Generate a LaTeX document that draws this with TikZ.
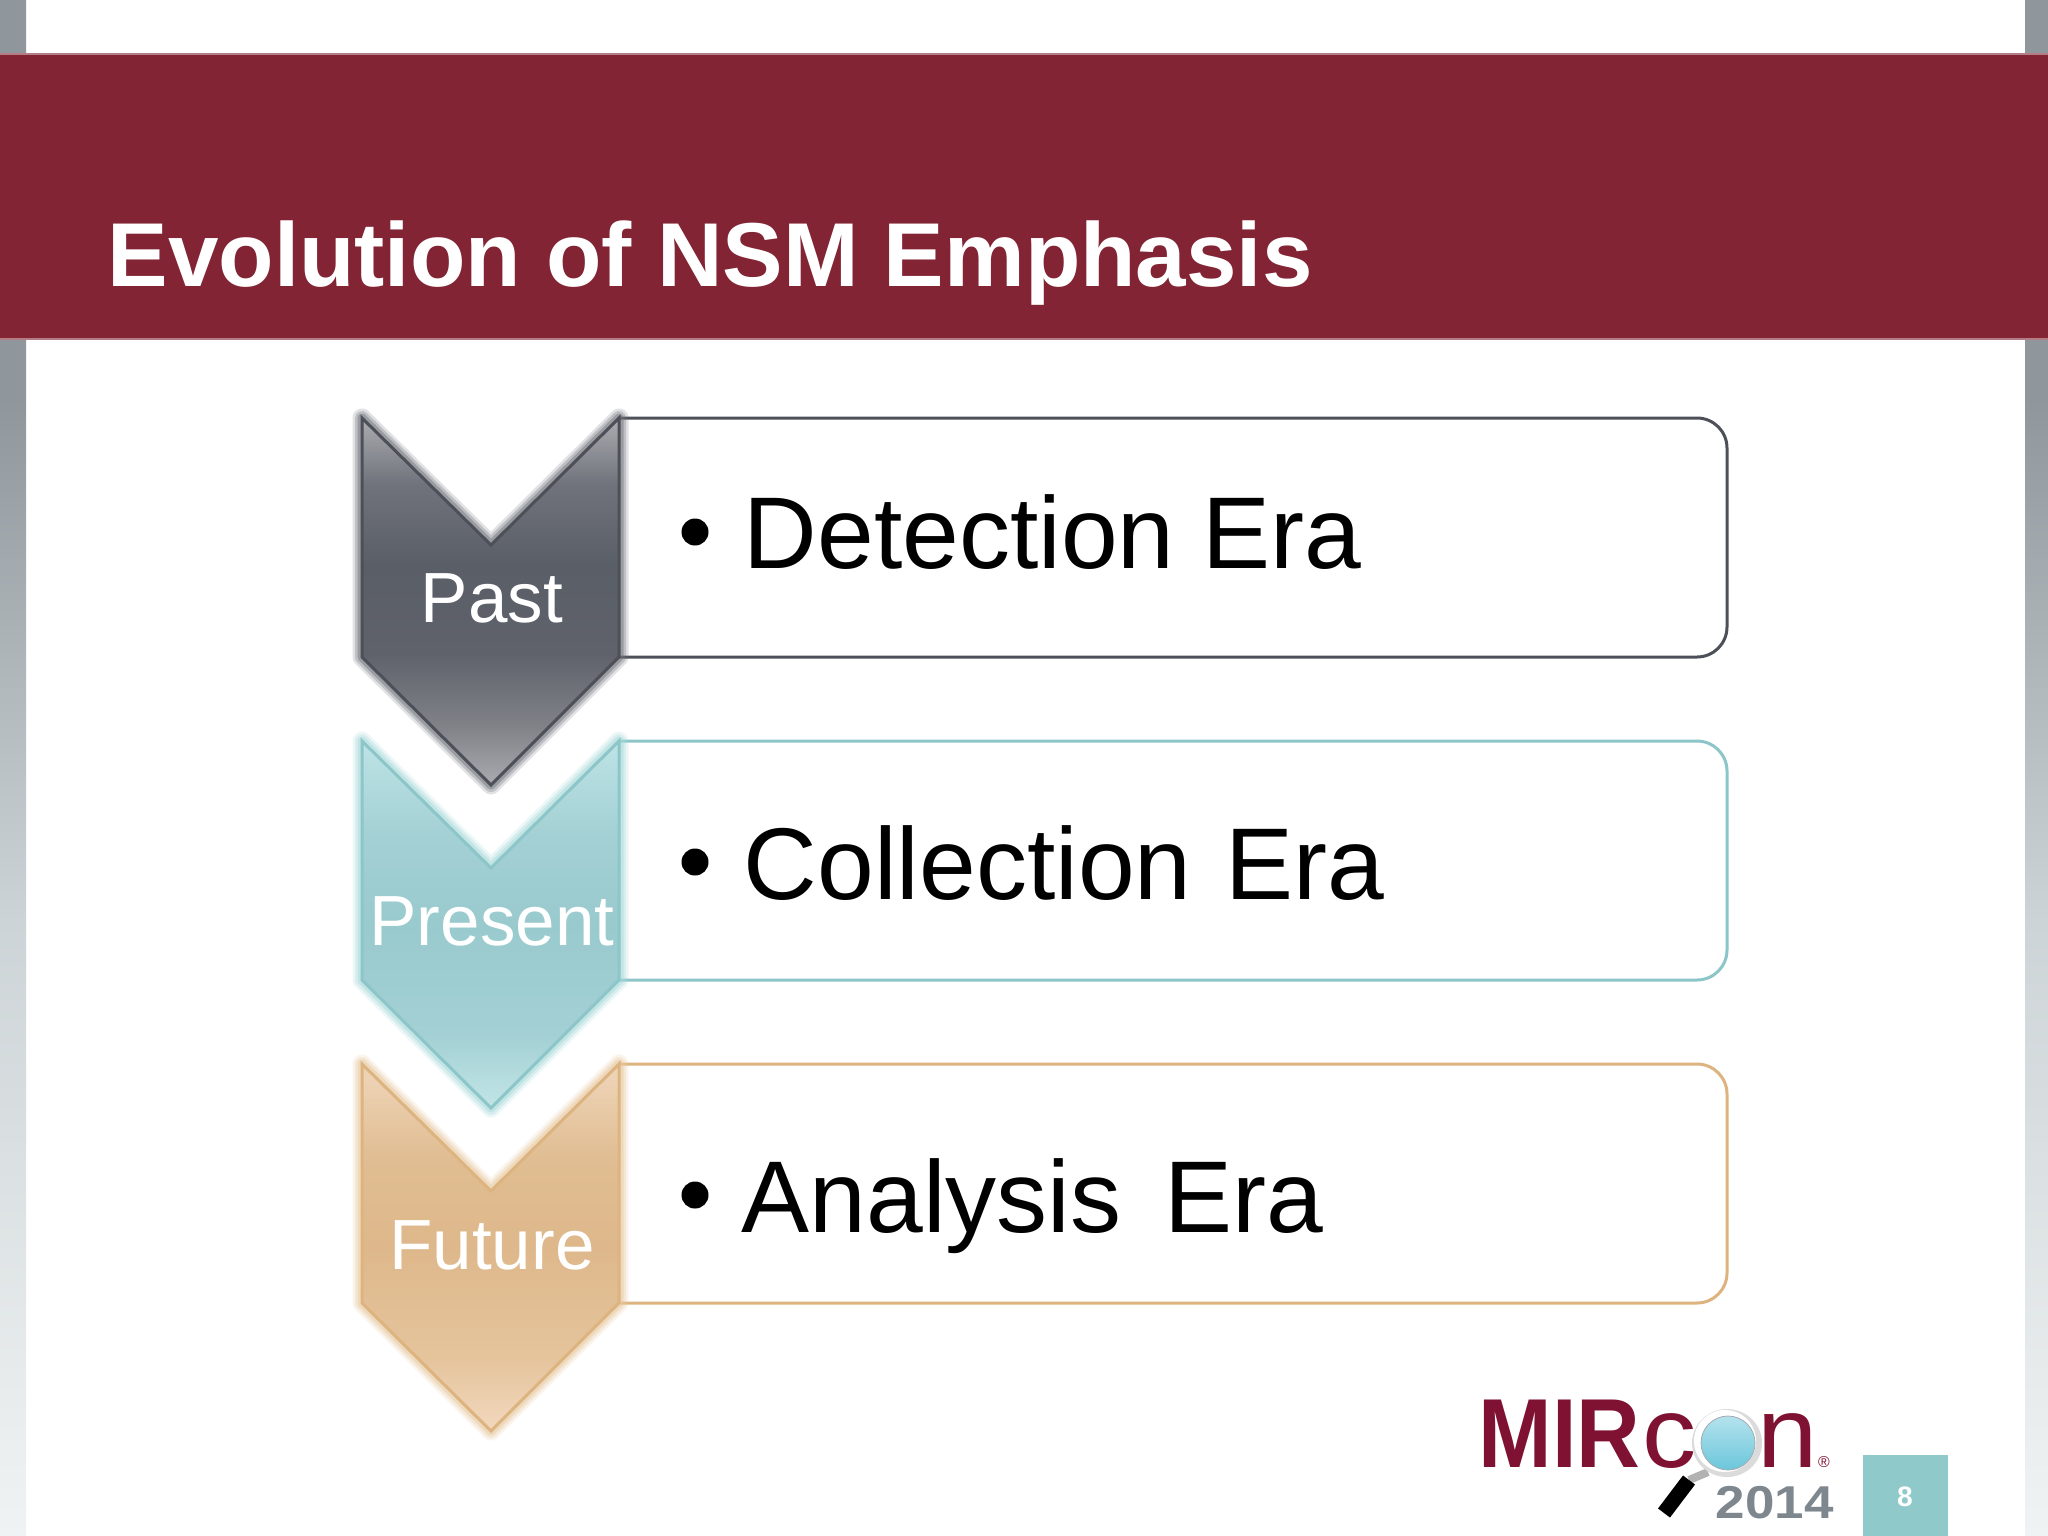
\documentclass[tikz,border=0pt]{standalone}
\usepackage{fontspec}
\usetikzlibrary{calc}
\setmainfont{Liberation Sans}
\definecolor{barred}{HTML}{822434}
\definecolor{logored}{HTML}{7F1232}
\definecolor{logogrey}{HTML}{7F878E}
\definecolor{numteal}{HTML}{8FC9CA}
\definecolor{pastline}{HTML}{4D5058}
\definecolor{presline}{HTML}{8CC6C8}
\definecolor{futline}{HTML}{DDB47F}
\definecolor{pastglow}{HTML}{6E7278}
\definecolor{presglow}{HTML}{A8DADB}
\definecolor{futglow}{HTML}{E8C9A0}
\definecolor{glassa}{HTML}{B4E3EE}\definecolor{glassb}{HTML}{6CC6DB}
\definecolor{pa}{HTML}{AAABB0}\definecolor{pb}{HTML}{808288}\definecolor{pc}{HTML}{5F626A}
\definecolor{pd}{HTML}{5A5E67}\definecolor{pe}{HTML}{70737B}\definecolor{pf}{HTML}{AAACB0}
\definecolor{ra}{HTML}{BDE3E6}\definecolor{rb}{HTML}{A3D0D4}\definecolor{rc}{HTML}{99CACE}
\definecolor{rd}{HTML}{A3D0D4}\definecolor{re}{HTML}{C2E5E7}
\definecolor{fa}{HTML}{EFD6BA}\definecolor{fb}{HTML}{E0BD92}\definecolor{fc}{HTML}{DEB88B}
\definecolor{fd}{HTML}{E5C49C}\definecolor{fe}{HTML}{F2D8BE}
\definecolor{sa}{HTML}{F0F3F3}\definecolor{sb}{HTML}{CDD4D7}\definecolor{sc}{HTML}{8F979C}
\pgfdeclareverticalshading{pastshade}{100bp}{color(0bp)=(pa);color(25bp)=(pa);
  color(33bp)=(pb);color(43bp)=(pc);color(55bp)=(pd);color(66bp)=(pe);color(75bp)=(pf);color(100bp)=(pf)}
\pgfdeclareverticalshading{presshade}{100bp}{color(0bp)=(re);color(25bp)=(re);
  color(35bp)=(rd);color(50bp)=(rc);color(62bp)=(rb);color(75bp)=(ra);color(100bp)=(ra)}
\pgfdeclareverticalshading{futshade}{100bp}{color(0bp)=(fe);color(25bp)=(fe);
  color(35bp)=(fd);color(50bp)=(fc);color(62bp)=(fb);color(75bp)=(fa);color(100bp)=(fa)}
\pgfdeclareverticalshading{stripshade}{100bp}{color(0bp)=(sa);color(25bp)=(sa);
  color(45bp)=(sb);color(62bp)=(sc);color(100bp)=(sc)}
\newcommand{\chevpath}[1]{(362,#1) -- (491,#1+127) -- (619,#1) -- (619,#1+239) -- (491,#1+367) -- (362,#1+239) -- cycle}
\newcommand{\chevron}[4]{%
  \foreach \w/\o in {19/0.2,14/0.3,9/0.45}{\draw[#4,line width=\w*0.01cm,opacity=\o,line join=round] \chevpath{#1};}
  \shade[shading=#2,draw=none] \chevpath{#1};
  \draw[#3,line width=0.03cm,line join=miter] \chevpath{#1};
}
\newcommand{\pillpath}[1]{(619,#1) -- (1727,#1) -- (1727,#1+239) -- (619,#1+239)}
\tikzset{
  erabox/.style={line width=0.03cm,rounded corners=0.3cm},
  eratext/.style={anchor=base west,inner sep=0pt,font=\fontsize{29}{34}\selectfont,text=black},
  chevtext/.style={inner sep=0pt,anchor=base,text=white,font=\fontsize{20.2}{24}\selectfont},
  bulletdot/.style={circle,fill=black,inner sep=0pt,minimum size=0.27cm}
}
\begin{document}
\begin{tikzpicture}[x=0.01cm,y=-0.01cm]
\useasboundingbox (0,0) rectangle (2048,1536);
\fill[white] (0,0) rectangle (2048,1536);
% side strips
\shade[shading=stripshade] (0,0) rectangle (26,1536);
\shade[shading=stripshade] (2025,0) rectangle (2048,1536);
% title band
\fill[barred] (0,54) rectangle (2048,339);
\draw[barred!60!white,line width=0.012cm] (0,54) -- (2048,54);
\draw[barred!60!white,line width=0.012cm] (0,339) -- (2048,339);
\node[anchor=base west,inner sep=0pt,text=white,font=\fontsize{25.8}{30}\selectfont\bfseries] (title) at (107,286) {Evolution of NSM Emphasis};
% era boxes
\draw[erabox,draw=pastline,fill=white] \pillpath{418};
\draw[erabox,draw=presline,fill=white] \pillpath{741};
\draw[erabox,draw=futline,fill=white] \pillpath{1064};
% chevrons
\chevron{1064}{futshade}{futline}{futglow}
\chevron{741}{presshade}{presline}{presglow}
\chevron{418}{pastshade}{pastline}{pastglow}
\node[chevtext] (past) at (492,622) {Past};
\node[chevtext] (present) at (492,945) {Present};
\node[chevtext] (future) at (492,1269) {Future};
% era texts
\node[bulletdot] (b1) at (695,532) {};
\node[bulletdot] (b2) at (695,862) {};
\node[bulletdot] (b3) at (695,1195) {};
\node[eratext] (t1) at (743,568) {Detection Era};
\node[eratext] (t2) at (743,899) {Collection\hspace{0.06em} Era};
\node[eratext] (t3) at (741,1232) {Analysis\hspace{0.15em} Era};
% slide number
\node[fill=numteal,minimum width=0.85cm,minimum height=0.82cm,inner sep=0pt,anchor=north west] (numbox) at (1862,1454) {};
\node[text=white,inner sep=0pt,anchor=base,font=\fontsize{8}{10}\selectfont\bfseries] (num) at (1905,1506) {8};
% logo
\node[anchor=base west,inner sep=0pt,text=logored,font=\fontsize{27.9}{30}\selectfont\bfseries] (mir) at (1478,1467) {\scalebox{0.9}[1]{MIR}};
\node[anchor=base west,inner sep=0pt,text=logored,font=\fontsize{28.5}{30}\selectfont] (con) at (1642,1467) {\scalebox{1.08}[1]{con}};
\node[anchor=base,inner sep=0pt,text=logored,font=\fontsize{4.5}{5}\selectfont] (reg) at (1824,1467) {®};
\coordinate (handleA) at (1689,1480);
\coordinate (handleB) at (1664,1513);
\coordinate (neck) at (1708,1472);
\draw[black!30,line width=0.08cm] (handleA) -- (neck);
\draw[black,line width=0.15cm] (handleA) -- (handleB);
\fill[black!14] (1727,1443) ellipse[x radius=35,y radius=34];
\fill[white] (1725,1441) ellipse[x radius=31,y radius=31];
\shade[top color=glassa,bottom color=glassb,draw=logogrey!70!white,line width=0.008cm] (1728,1443) ellipse[x radius=27,y radius=27];
\node[anchor=base west,inner sep=0pt,text=logogrey,font=\fontsize{13.1}{15}\selectfont\bfseries] (year) at (1715,1518) {\scalebox{1.15}[1]{2014}};
\end{tikzpicture}
\end{document}
